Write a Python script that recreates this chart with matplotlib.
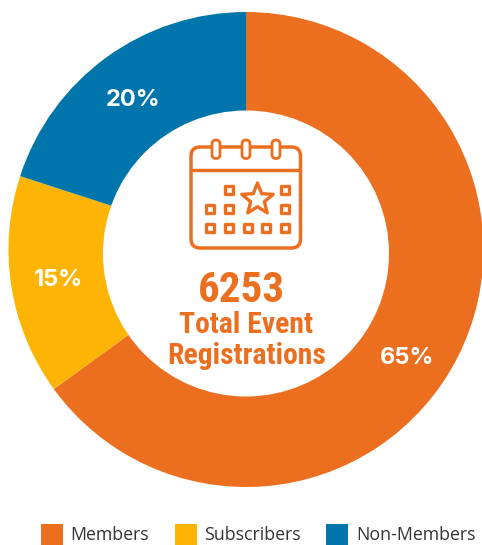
#!/usr/bin/env python3
"""Donut chart of event registrations by type, with a calendar icon in the hole."""
import matplotlib
matplotlib.use("Agg")
import matplotlib.pyplot as plt
from matplotlib.patches import Circle, FancyBboxPatch, Polygon, Rectangle
import numpy as np

categories = ["Members", "Subscribers", "Non-Members"]
shares = [65, 15, 20]
share_labels = ["65%", "15%", "20%"]
colors = ["#EC6F1F", "#FDB404", "#0075AB"]
total = "6253"
caption = ["Total Event", "Registrations"]

W, H = 482, 545
ORANGE = colors[0]

fig = plt.figure(figsize=(W / 100, H / 100), dpi=100)

# pie is a true circle running slightly off the right edge
pie_ax = fig.add_axes([8.5 / W, (H - 487) / H, 475 / W, 475 / H])
pie_ax.pie(shares, colors=colors, startangle=90, counterclock=False,
           radius=1.0, wedgeprops=dict(linewidth=0))
pie_ax.set_xlim(-1, 1)
pie_ax.set_ylim(-1, 1)

# overlay in pixel coordinates for hole, text and icon
ax = fig.add_axes([0, 0, 1, 1])
ax.set_xlim(0, W)
ax.set_ylim(H, 0)
ax.axis("off")
ax.patch.set_alpha(0)

# the hole sits a few pixels below the pie centre in the original
ax.add_patch(Circle((246, 253.5), 143, fc="white", ec="none"))

for txt, (x, y) in zip(share_labels, [(407, 358.5), (58, 279.5), (133, 99.5)]):
    ax.text(x, y, txt, color="white", fontsize=17, fontweight="bold",
            family="Inter", ha="center", va="center")

narrow = ["Roboto Condensed", "Barlow Condensed", "DejaVu Sans"]
ax.text(241, 290, total, color=ORANGE, fontsize=31, fontweight="bold",
        family=narrow, ha="center", va="center")
ax.text(246.5, 325, caption[0], color=ORANGE, fontsize=21.3, fontweight="bold",
        family=narrow, ha="center", va="center")
ax.text(246.5, 356, caption[1], color=ORANGE, fontsize=21.3, fontweight="bold",
        family=narrow, ha="center", va="center")

# calendar icon
lw = 2.5
ax.add_patch(FancyBboxPatch((191, 147), 109.5, 101, boxstyle="round,pad=0,rounding_size=9",
                            fc="white", ec=ORANGE, lw=lw))
ax.plot([191, 300.5], [169.5, 169.5], color=ORANGE, lw=lw, solid_capstyle="butt")
for rx in [216, 246, 276]:
    ax.add_patch(FancyBboxPatch((rx - 4, 140), 8, 18.5, boxstyle="round,pad=0,rounding_size=4",
                                fc="white", ec=ORANGE, lw=2.0, zorder=3))

cells = [(229, 190), (285, 190), (210, 209), (229, 209), (285, 209),
         (210, 228), (229, 228), (248, 228), (266, 228), (285, 228)]
for cx, cy in cells:
    ax.add_patch(Rectangle((cx - 3.6, cy - 3.6), 7.2, 7.2, fc="white", ec=ORANGE, lw=2.4, joinstyle="round"))

angles = np.deg2rad(np.arange(0, 360, 36) - 90)
radii = np.array([16.5, 7.2] * 5)
star = np.column_stack([257.5 + radii * np.cos(angles), 199.5 + radii * np.sin(angles)])
ax.add_patch(Polygon(star, closed=True, fc="white", ec=ORANGE, lw=2.4, joinstyle="round"))

# legend
for name, col, sx, tx in zip(categories, colors, [41, 175, 326], [70, 204, 356]):
    ax.add_patch(Rectangle((sx, 524), 22, 21, fc=col, ec="none"))
    ax.text(tx, 535, name, color="#333333", fontsize=12.8, family="Open Sans",
            ha="left", va="center")

fig.savefig("out.png", dpi=100)
